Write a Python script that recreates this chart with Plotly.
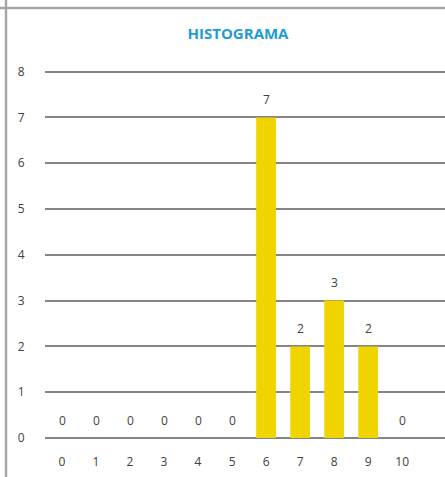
import plotly.graph_objects as go

categories = [0, 1, 2, 3, 4, 5, 6, 7, 8, 9, 10]
frequencies = [0, 0, 0, 0, 0, 0, 7, 2, 3, 2, 0]
y_ticks = [0, 1, 2, 3, 4, 5, 6, 7, 8]
title_text = "HISTOGRAMA"

W, H = 445, 477
T, B = 67, 39
PH = H - T - B
FONT = "Open Sans, Liberation Sans, sans-serif"
fig = go.Figure()
fig.add_trace(go.Bar(
    x=categories, y=frequencies,
    marker=dict(color="#EFD400", line=dict(width=0)),
    width=0.58, hoverinfo="x+y",
))

for c, v in zip(categories, frequencies):
    fig.add_annotation(x=c, y=v, text=str(v), showarrow=False,
                       yshift=18, yanchor="middle",
                       font=dict(family=FONT, size=12, color="#404040"))

fig.update_layout(
    width=W, height=H,
    margin=dict(l=45, r=0, t=T, b=B),
    paper_bgcolor="white", plot_bgcolor="white",
    showlegend=False,
    bargap=0.42,
    title=dict(text="<b>" + title_text + "</b>", x=238 / W, xanchor="center",
               y=1 - 34 / H, yanchor="middle",
               font=dict(family=FONT, size=15, color="#1E9BD7")),
    xaxis=dict(range=[-0.5, 11.26], tickmode="array", tickvals=categories,
               ticktext=[str(c) for c in categories],
               showgrid=False, zeroline=False, showline=False,
               ticks="outside", ticklen=13, tickcolor="rgba(0,0,0,0)",
               tickfont=dict(family=FONT, size=12, color="#404040")),
    yaxis=dict(range=[0, 8.1], tickmode="array", tickvals=y_ticks,
               showgrid=True, gridcolor="#858585", gridwidth=1.5,
               zeroline=True, zerolinecolor="#858585", zerolinewidth=1.5,
               ticks="outside", ticklen=17, tickcolor="rgba(0,0,0,0)",
               tickfont=dict(family=FONT, size=12, color="#404040")),
    shapes=[
        dict(type="line", xref="paper", yref="paper", x0=-45 / 400, x1=1.0,
             y0=1 + (T - 8) / PH, y1=1 + (T - 8) / PH,
             line=dict(color="#A6A6A6", width=2.5)),
        dict(type="line", xref="paper", yref="paper", x0=-39 / 400, x1=-39 / 400,
             y0=-B / PH, y1=1 + T / PH,
             line=dict(color="#A6A6A6", width=2.5)),
    ],
)

fig.write_html("out.html", config={"displayModeBar": False},
               post_script="document.body.style.margin='0';")
